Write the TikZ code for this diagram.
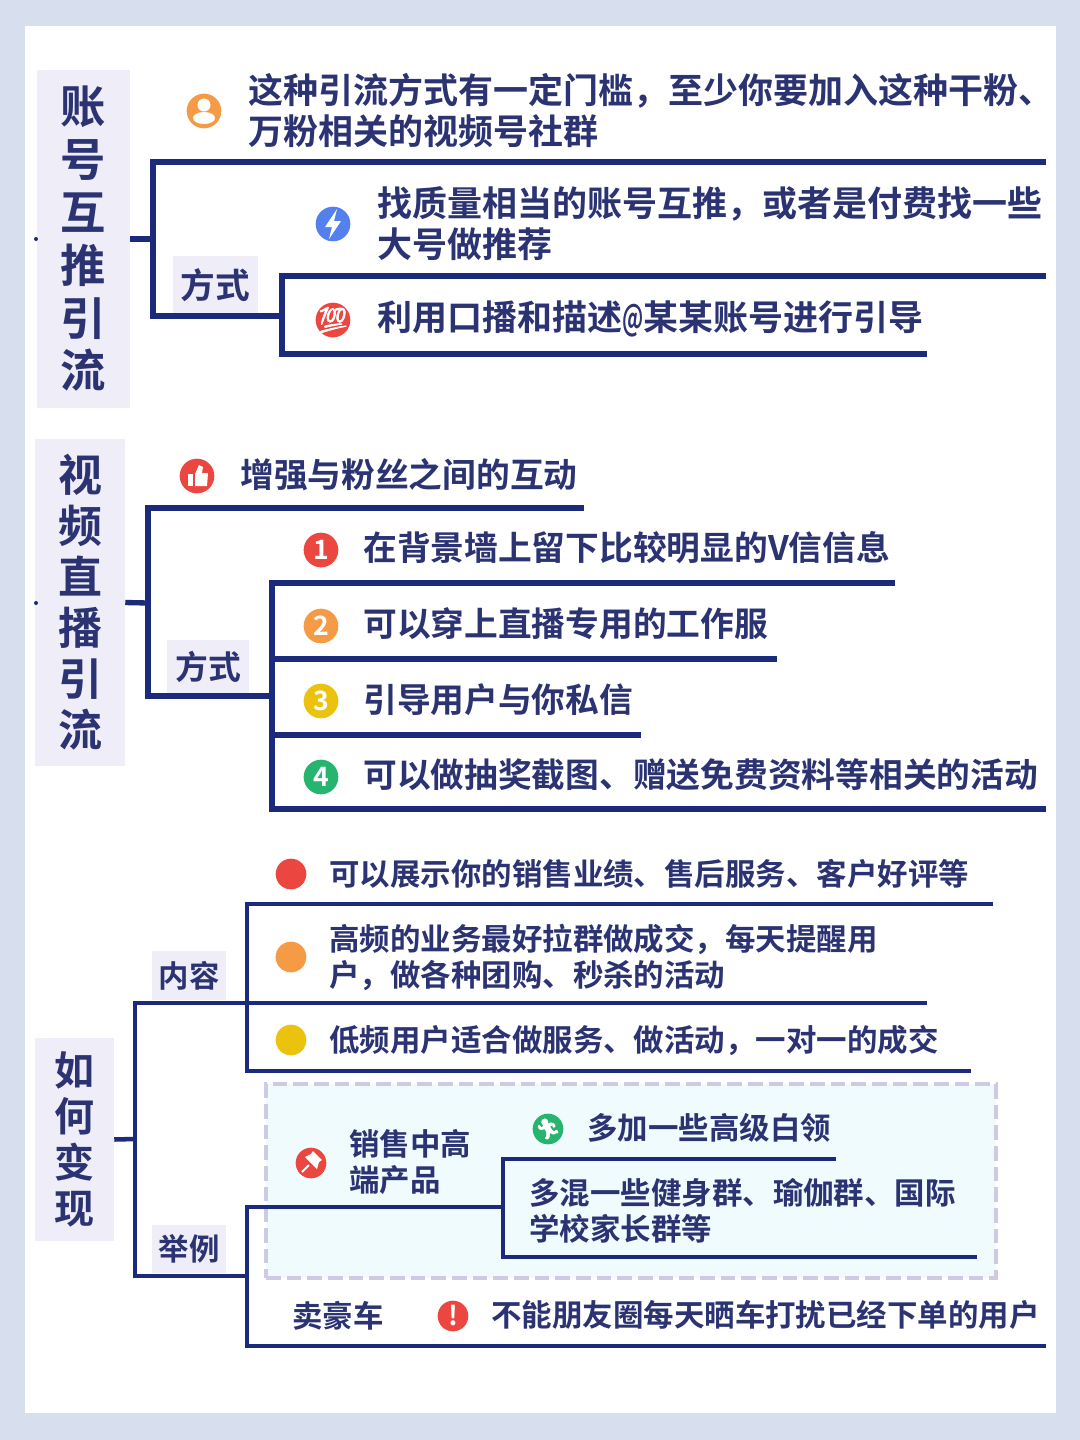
\documentclass[tikz,border=0pt]{standalone}
\usepackage{fontspec}
\setmainfont{Noto Sans CJK SC}[BoldFont={Noto Sans CJK SC Bold}]
\newfontfamily\emojifont{Noto Emoji}[FakeBold=2.5]
\usetikzlibrary{positioning}
\definecolor{pagebg}{HTML}{D7DFEE}
\definecolor{navy}{HTML}{1C2A7C}
\definecolor{ink}{HTML}{2B3372}
\definecolor{tagbg}{HTML}{EFEDF7}
\definecolor{panelbg}{HTML}{F0FBFE}
\definecolor{panelline}{HTML}{CFCAE4}
\definecolor{redi}{HTML}{EC4640}
\definecolor{orangei}{HTML}{F59B45}
\definecolor{yellowi}{HTML}{EBC20E}
\definecolor{greeni}{HTML}{27B46E}
\definecolor{bluei}{HTML}{5480EE}
\tikzset{
  link/.style={draw=navy,line width=4pt},
  linkthin/.style={draw=navy,line width=3.4pt},
  txtA/.style={font=\bfseries\fontsize{26.25}{30.8}\selectfont,text=ink,inner sep=0pt,anchor=west,align=left},
  txtB/.style={font=\bfseries\fontsize{25.3}{29}\selectfont,text=ink,inner sep=0pt,anchor=west,align=left},
  txtC/.style={font=\bfseries\fontsize{22.85}{27}\selectfont,text=ink,inner sep=0pt,anchor=west,align=left},
  title/.style={fill=tagbg,text=ink,inner sep=0pt,align=center,font=\bfseries},
  tag/.style={fill=tagbg,text=ink,inner sep=0pt,font=\bfseries},
  icon/.style={circle,fill=#1,inner sep=0pt,minimum size=26pt,text=white,font=\bfseries\fontsize{20}{20}\selectfont},
  dot/.style={circle,fill=#1,inner sep=0pt,minimum size=23pt},
  emoji/.style={font=\emojifont\fontsize{#1}{#1}\selectfont,text=white,inner sep=0pt},
}
\begin{document}
\begin{tikzpicture}[x=0.75pt,y=-0.75pt]
	\useasboundingbox (0,0) rectangle (1080,1440);
	\fill[pagebg] (0,0) rectangle (1080,1440);
	\fill[white] (25,26) rectangle (1056,1413);

	% first block
	\node[title,minimum width=69.75pt,minimum height=253.5pt,font=\bfseries\fontsize{34}{39.6}\selectfont] (acct) at (83.5,239) {账\\号\\互\\推\\引\\流};
	\coordinate (a1) at (153,239);
	\coordinate (a1t) at (153,162);
	\coordinate (a1te) at (1046,162);
	\coordinate (a1b) at (153,316);
	\coordinate (a2) at (282,316);
	\coordinate (a2t) at (282,276);
	\coordinate (a2te) at (1046,276);
	\coordinate (a2b) at (282,354);
	\coordinate (a2be) at (927,354);
	\node[tag,minimum width=63.75pt,minimum height=43.5pt,font=\bfseries\fontsize{26}{26}\selectfont] (way1) at (215.5,285) {\raisebox{1.5pt}{方式}};
	\draw[link] (acct.east) -- (a1);
	\draw[link] (a1te) -- (a1t) -- (a1b) -- (a2);
	\draw[link] (a2te) -- (a2t) -- (a2b) -- (a2be);
	\fill[navy] (36,239) circle (2);
	\node[icon=orangei] (ic1) at (204,111) {};
	\fill[white] (204,105) circle (6.5);
	\fill[white] (204,118) ellipse (11 and 6);
	\node[txtA] (t1) at (248,111) {这种引流方式有一定门槛，至少你要加入这种干粉、\\万粉相关的视频号社群};
	\node[icon=bluei] (ic2) at (333,224) {};
	\fill[white] (337,209) -- (325,227) -- (332,227) -- (329,239) -- (341,221) -- (334,221) -- cycle;
	\node[txtA] (t2) at (377,224) {找质量相当的账号互推，或者是付费找一些\\大号做推荐};
	\node[icon=redi] (ic3) at (333,320) {};
	\node[emoji=19] at (ic3) {💯};
	\node[txtA] (t3) at (377,319) {利用口播和描述\scalebox{0.6}[1]{@}某某账号进行引导};

	% second block
	\node[title,minimum width=67.5pt,minimum height=245pt,font=\bfseries\fontsize{33}{38.2}\selectfont] (live) at (80,602.5) {视\\频\\直\\播\\引\\流};
	\coordinate (b1) at (148,603);
	\coordinate (b1t) at (148,508);
	\coordinate (b1te) at (584,508);
	\coordinate (b1b) at (148,696);
	\coordinate (b2) at (272,696);
	\coordinate (b2t) at (272,583);
	\coordinate (b2te) at (895,583);
	\coordinate (b2m) at (272,659);
	\coordinate (b2me) at (777,659);
	\coordinate (b2n) at (272,735);
	\coordinate (b2ne) at (641,735);
	\coordinate (b2b) at (272,809);
	\coordinate (b2be) at (1046,809);
	\node[tag,minimum width=61.5pt,minimum height=39.75pt,font=\bfseries\fontsize{24.6}{24.6}\selectfont] (way2) at (208,666.5) {\raisebox{1pt}{方式}};
	\draw[link] (live.east) -- (b1);
	\draw[link] (b1te) -- (b1t) -- (b1b) -- (b2);
	\draw[link] (b2te) -- (b2t) -- (b2b) -- (b2be);
	\draw[link] (b2m) -- (b2me);
	\draw[link] (b2n) -- (b2ne);
	\fill[navy] (36,603) circle (2);
	\node[icon=redi] (ic4) at (197,476) {};
	\fill[white] (188,474) rectangle (193,486);
	\fill[white] (195,474) -- (199,465) -- (203,467) -- (202,473) -- (208,473) -- (207,486) -- (195,486) -- cycle;
	\node[txtB] (t4) at (240,475) {增强与粉丝之间的互动};
	\node[icon=redi] (n1) at (321,550) {1};
	\node[txtB] (t5) at (363,548) {在背景墙上留下比较明显的V信信息};
	\node[icon=orangei] (n2) at (321,626) {2};
	\node[txtB] (t6) at (363,624) {可以穿上直播专用的工作服};
	\node[icon=yellowi] (n3) at (321,701) {3};
	\node[txtB] (t7) at (363,700) {引导用户与你私信};
	\node[icon=greeni] (n4) at (321,777) {4};
	\node[txtB] (t8) at (363,775) {可以做抽奖截图、赠送免费资料等相关的活动};

	% third block
	\node[fill=panelbg,draw=panelline,line width=2.8pt,dash pattern=on 11pt off 4.5pt,minimum width=547.5pt,minimum height=145.5pt,inner sep=0pt] (panel) at (631,1181) {};
	\node[title,minimum width=59.25pt,minimum height=152.25pt,font=\bfseries\fontsize{30}{34.5}\selectfont] (earn) at (74.5,1139.5) {如\\何\\变\\现};
	\coordinate (c1) at (135,1139);
	\coordinate (c1t) at (135,1003);
	\coordinate (c2) at (247,1003);
	\coordinate (c1b) at (135,1276);
	\coordinate (c3) at (247,1276);
	\coordinate (c2t) at (247,904);
	\coordinate (c2te) at (993,904);
	\coordinate (c2me) at (927,1003);
	\coordinate (c2b) at (247,1071);
	\coordinate (c2be) at (971,1071);
	\coordinate (c3t) at (247,1207);
	\coordinate (c4) at (503,1207);
	\coordinate (c3b) at (247,1346);
	\coordinate (c3be) at (1046,1346);
	\coordinate (c4t) at (503,1159);
	\coordinate (c4te) at (836,1159);
	\coordinate (c4b) at (503,1257);
	\coordinate (c4be) at (977,1257);
	\node[tag,minimum width=55.5pt,minimum height=36.75pt,font=\bfseries\fontsize{22.8}{22.8}\selectfont] (cont) at (189,975.5) {内容};
	\node[tag,minimum width=55.5pt,minimum height=36pt,font=\bfseries\fontsize{22.8}{22.8}\selectfont] (exam) at (189,1249) {举例};
	\draw[linkthin] (earn.east) -- (c1);
	\draw[linkthin] (c2) -- (c1t) -- (c1b) -- (c3);
	\draw[linkthin] (c2te) -- (c2t) -- (c2b) -- (c2be);
	\draw[linkthin] (c2) -- (c2me);
	\draw[linkthin] (c4) -- (c3t) -- (c3b) -- (c3be);
	\draw[linkthin] (c4te) -- (c4t) -- (c4b) -- (c4be);
	\node[dot=redi] (d1) at (291,874) {};
	\node[txtC] (t9) at (329,874) {可以展示你的销售业绩、售后服务、客户好评等};
	\node[dot=orangei] (d2) at (291,957) {};
	\node[txtC] (t10) at (329,957) {高频的业务最好拉群做成交，每天提醒用\\户，做各种团购、秒杀的活动};
	\node[dot=yellowi] (d3) at (291,1040) {};
	\node[txtC] (t11) at (329,1040) {低频用户适合做服务、做活动，一对一的成交};
	\node[dot=redi] (ic5) at (311,1163) {};
	\fill[white] (313,1151) -- (322,1160) -- (319,1162) -- (317,1169) -- (305,1157) -- (311,1154) -- cycle;
	\draw[white,line width=1.5pt] (309,1165) -- (302,1172);
	\node[txtC] (t12) at (349,1162) {销售中高\\端产品};
	\node[dot=greeni] (ic6) at (548,1129) {};
	\node[emoji=15] at (ic6) {🏃};
	\node[txtC] (t13) at (587,1128) {多加一些高级白领};
	\node[txtC] (t14) at (529,1211) {多混一些健身群、瑜伽群、国际\\学校家长群等};
	\node[txtC] (t15) at (292,1316) {卖豪车};
	\node[dot=redi,font=\bfseries\fontsize{20}{20}\selectfont,text=white] (ic7) at (453,1316) {!};
	\node[txtC] (t16) at (491,1315) {不能朋友圈每天晒车打扰已经下单的用户};
\end{tikzpicture}
\end{document}
